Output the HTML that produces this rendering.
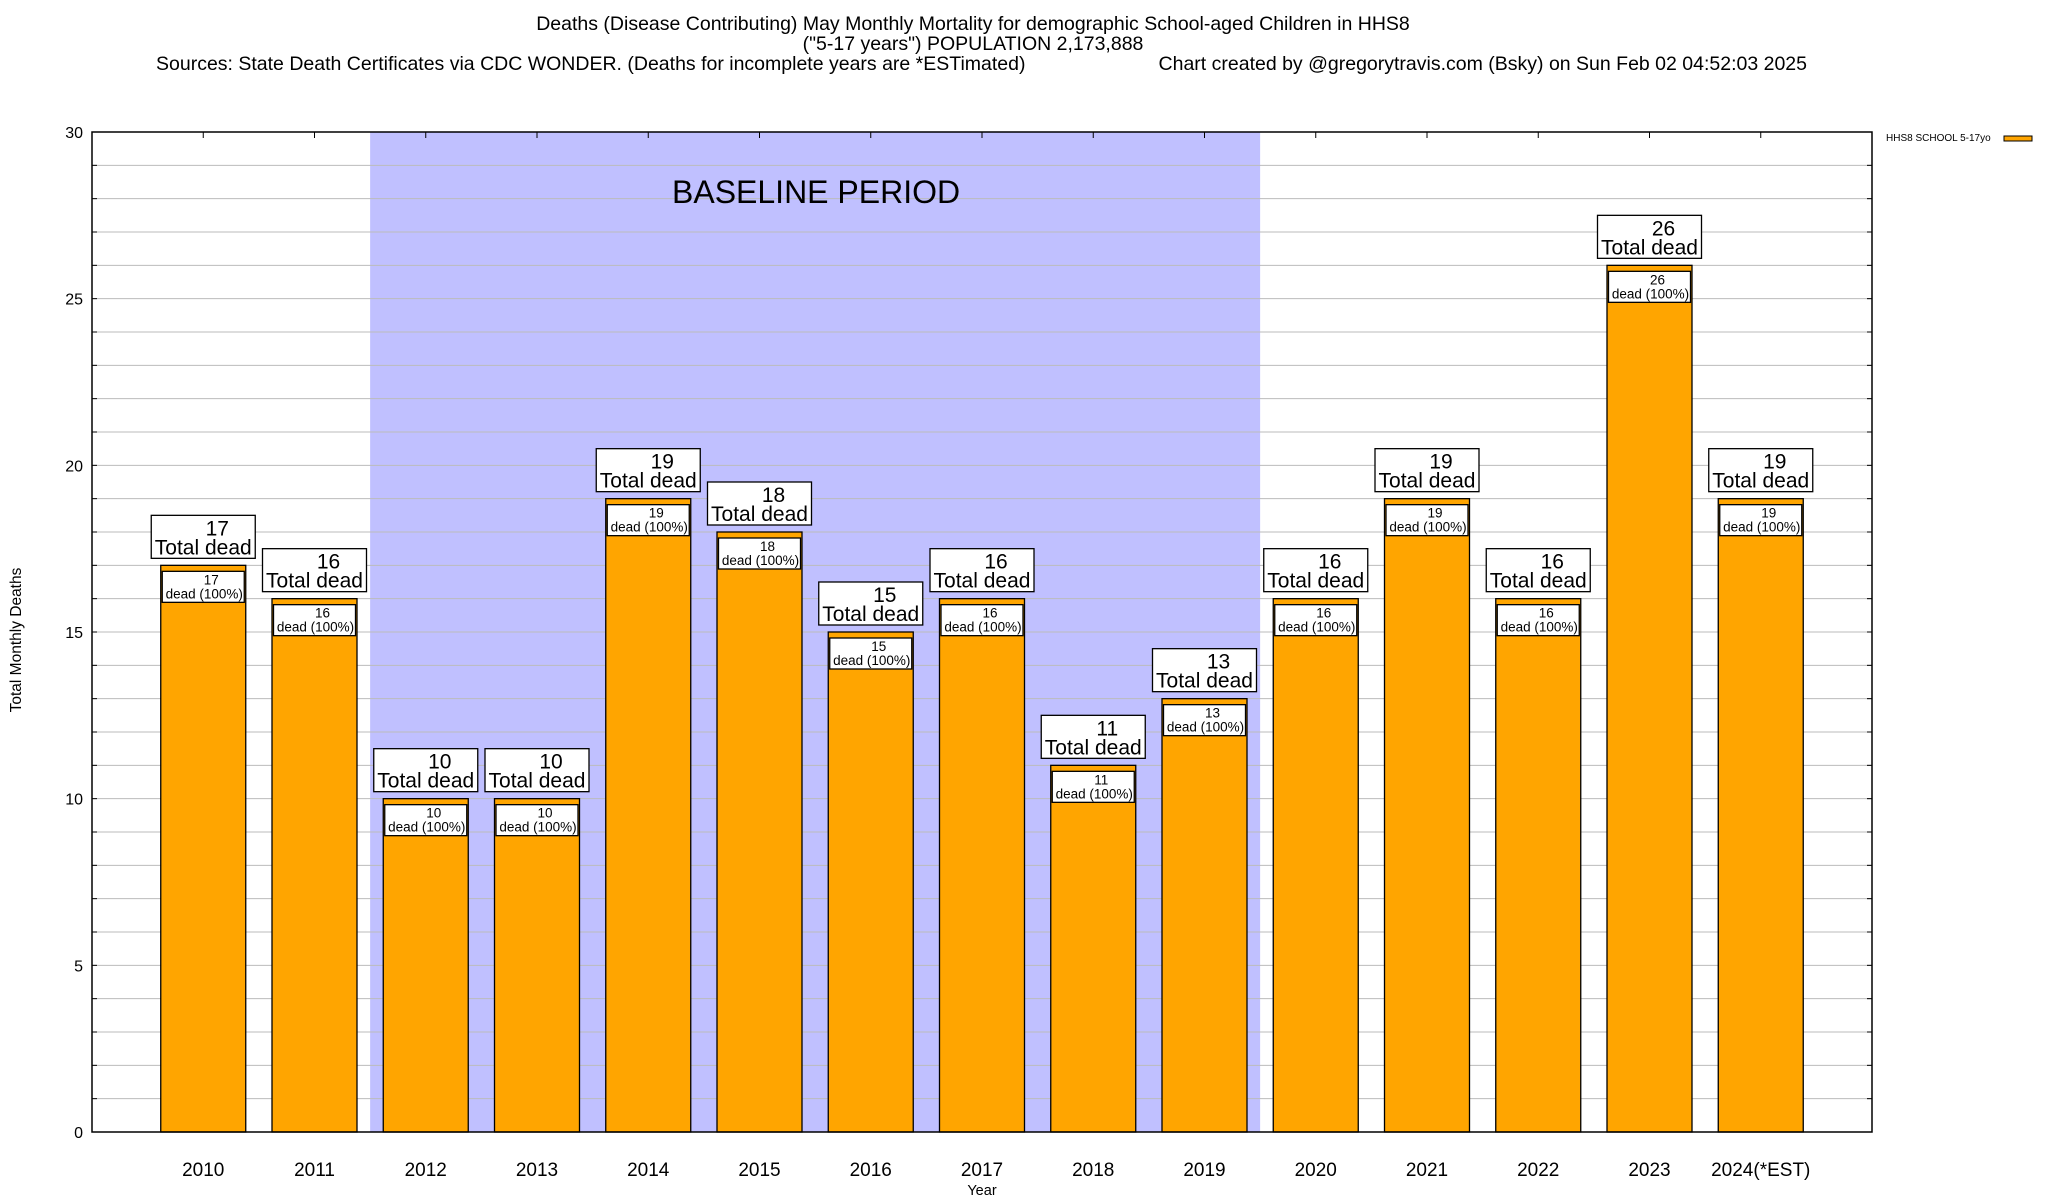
<!DOCTYPE html>
<html><head><meta charset="utf-8">
<style>
html,body{margin:0;padding:0;background:#fff;}
svg{display:block;font-family:"Liberation Sans",Arial,sans-serif;}
</style></head>
<body>
<svg id="chart" width="2048" height="1200" xmlns="http://www.w3.org/2000/svg">
  <text x="973" y="30" font-size="19.5" text-anchor="middle">Deaths (Disease Contributing) May Monthly Mortality for demographic School-aged Children in HHS8</text>
  <text x="973" y="50" font-size="19.5" text-anchor="middle">("5-17 years") POPULATION 2,173,888</text>
  <text x="156" y="70" font-size="19.5">Sources: State Death Certificates via CDC WONDER. (Deaths for incomplete years are *ESTimated)</text>
  <text x="1807" y="70" font-size="19.5" text-anchor="end">Chart created by @gregorytravis.com (Bsky) on Sun Feb 02 04:52:03 2025</text>
  <g id="plot"></g>
  <text x="0" y="0" font-size="15.5" text-anchor="middle" transform="translate(21,640) rotate(-90)">Total Monthly Deaths</text>
  <text x="982" y="1195" font-size="14.5" text-anchor="middle">Year</text>
  <g>
    <text x="1886" y="141" font-size="10">HHS8 SCHOOL 5-17yo</text>
    <rect x="2004" y="136" width="28" height="5" fill="#ffa500" stroke="#000" stroke-width="1"/>
  </g>
</svg>
<script>
const categories = ["2010","2011","2012","2013","2014","2015","2016","2017","2018","2019","2020","2021","2022","2023","2024(*EST)"];
const deaths = [17,16,10,10,19,18,15,16,11,13,16,19,16,26,19];
const yTicks = [0,5,10,15,20,25,30];
const baselineStart = 1.5, baselineEnd = 9.5;

const NS = "http://www.w3.org/2000/svg";
const L = 92, R = 1872, T = 132, B = 1132, yMax = 30;
const xS = i => L + (R - L) / (categories.length + 1) * (i + 1);
const yS = v => B - (B - T) * v / yMax;
const unitW = (R - L) / (categories.length + 1);
const barW = 85;
const plot = document.getElementById("plot");
function mk(tag, attrs, parent) {
  const e = document.createElementNS(NS, tag);
  for (const k in attrs) e.setAttribute(k, attrs[k]);
  (parent || plot).appendChild(e);
  return e;
}
const shade = mk("rect", {x: L + unitW * (baselineStart + 1), y: T, width: unitW * (baselineEnd - baselineStart), height: B - T, fill: "#c0c0ff"});


for (let v = 1; v < yMax; v++) {
  const g = mk("line", {x1: L, x2: R, y1: yS(v), y2: yS(v), stroke: "#bbbbbb", "stroke-width": 1});
  
  
  const t1 = mk("line", {x1: L, x2: L + 5, y1: yS(v), y2: yS(v), stroke: "#000"});
  
  
  const t2 = mk("line", {x1: R - 5, x2: R, y1: yS(v), y2: yS(v), stroke: "#000"});
  
  
}
const bl = mk("text", {x: 672, y: 203, "font-size": 32}, plot);
bl.textContent = "BASELINE PERIOD";


yTicks.forEach(v => {
  const t = mk("text", {x: L - 9, y: yS(v) + 6, "font-size": 16, "text-anchor": "end"});
  t.textContent = v;
  
  
});
categories.forEach((c, i) => {
  const cx = xS(i), v = deaths[i], top = yS(v);
  const tk = mk("line", {x1: cx, x2: cx, y1: T, y2: T + 6, stroke: "#000"});
  
  
  const b = mk("rect", {x: cx - barW / 2, y: top, width: barW, height: B - top, fill: "#ffa500", stroke: "#000", "stroke-width": 1.3});
  
  
  const ib = mk("rect", {x: cx - 41, y: top + 6, width: 82, height: 31, fill: "#fff", stroke: "#000", "stroke-width": 1.3});
  
  
  const it1 = mk("text", {x: cx + 8, y: top + 19, "font-size": 13.5, "text-anchor": "middle"});
  it1.textContent = v;
  
  
  const it2 = mk("text", {x: cx + 1, y: top + 33, "font-size": 13.5, "text-anchor": "middle"});
  it2.textContent = "dead (100%)";
  
  
  const ob = mk("rect", {x: cx - 52, y: top - 50, width: 104, height: 43, fill: "#fff", stroke: "#000", "stroke-width": 1.3});
  
  
  const ot1 = mk("text", {x: cx + 14, y: top - 30, "font-size": 21, "text-anchor": "middle"});
  ot1.textContent = v;
  
  
  const ot2 = mk("text", {x: cx, y: top - 11, "font-size": 21, "text-anchor": "middle"});
  ot2.textContent = "Total dead";
  
  
  const xl = mk("text", {x: cx, y: 1176, "font-size": 19, "text-anchor": "middle"});
  xl.textContent = c;
  
  
});
const frame = mk("rect", {x: L, y: T, width: R - L, height: B - T, fill: "none", stroke: "#000", "stroke-width": 1.5});


</script>
</body></html>
